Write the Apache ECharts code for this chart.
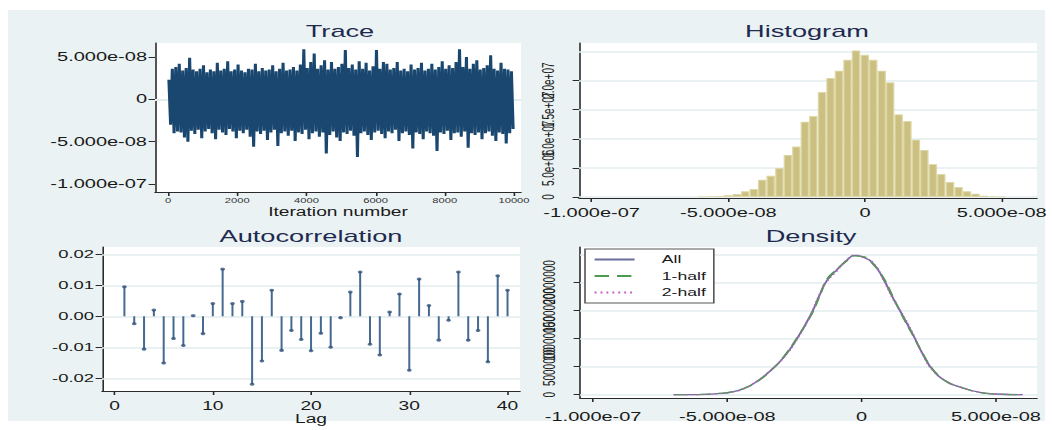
<!DOCTYPE html>
<html>
<head>
<meta charset="utf-8">
<title>MCMC diagnostics</title>
<script src="https://cdn.jsdelivr.net/npm/echarts@6/dist/echarts.min.js"></script>
<style>
  html, body { margin: 0; padding: 0; background: #fff; }
  #bg { position: absolute; left: 8px; top: 10px; width: 1037px; height: 411px; background: #eaf2f3; }
  /* the original graph is stretched sideways, so the chart is drawn narrow and scaled */
  #chart { position: absolute; left: 0; top: 0; width: 657.5px; height: 430px;
           transform: scaleX(1.6); transform-origin: 0 0; }
</style>
</head>
<body>
<div id="bg"></div>
<div id="chart"></div>
<script>
const SX = 1.6
const sx = x => x / SX // reference pixel -> chart pixel

// Trace: highest / lowest draw in each block of 100 iterations (units 1e-8)
const traceStep = 100
const traceHigh = [2.3, 3.6, 3.8, 4.2, 3.4, 3.7, 4.9, 3.5, 3.3, 3.6,
  4.0, 3.2, 3.5, 3.3, 4.3, 3.4, 3.6, 4.5, 3.3, 3.5,
  4.1, 3.4, 3.2, 3.6, 3.5, 4.2, 3.3, 3.7, 3.4, 3.5,
  4.0, 3.3, 3.6, 4.3, 3.4, 3.5, 3.8, 3.4, 4.1, 5.9,
  3.7, 4.4, 5.4, 3.6, 4.0, 4.6, 3.5, 4.4, 3.6, 3.8,
  4.2, 5.8, 3.7, 4.1, 3.5, 4.5, 3.6, 4.3, 3.4, 3.9,
  5.8, 3.6, 4.4, 4.2, 3.5, 3.7, 4.4, 3.4, 3.6, 3.3,
  4.1, 3.5, 3.7, 4.3, 3.4, 3.6, 4.2, 3.5, 3.8, 4.5,
  3.6, 4.0, 3.7, 4.4, 5.9, 3.8, 5.0, 3.6, 4.2, 4.6,
  3.5, 3.7, 4.0, 5.2, 3.6, 3.4, 4.3, 3.6, 3.5, 3.3]
const traceLow = [-3.0, -4.0, -3.8, -3.9, -4.5, -5.0, -3.7, -4.1, -3.6, -4.6,
  -3.8, -3.5, -4.0, -4.7, -3.6, -3.9, -4.2, -3.5, -3.8, -4.6,
  -3.7, -4.0, -3.6, -4.4, -5.6, -3.8, -4.1, -3.7, -4.8, -3.9,
  -3.6, -5.5, -4.0, -3.8, -4.3, -3.7, -4.9, -3.9, -4.1, -3.6,
  -4.7, -4.0, -3.8, -4.4, -3.9, -6.4, -4.2, -3.8, -4.5, -4.9,
  -3.9, -4.1, -3.7, -4.3, -6.8, -4.0, -3.8, -4.2, -4.8, -3.9,
  -3.7, -4.1, -4.6, -3.8, -4.0, -3.6, -4.9, -4.0, -3.8, -4.2,
  -5.8, -3.9, -4.1, -4.7, -3.8, -4.0, -4.3, -6.1, -3.9, -4.1,
  -3.7, -4.8, -4.0, -3.9, -4.4, -3.8, -5.7, -4.0, -4.2, -3.9,
  -4.7, -4.0, -3.8, -4.3, -4.9, -3.9, -4.1, -5.2, -4.0, -3.5]
const traceXTicks = [0, 2000, 4000, 6000, 8000, 10000]
const traceXLabels = ['0', '2000', '4000', '6000', '8000', '10000']
const traceYTicks = [-1e-7, -5e-8, 0, 5e-8]
const traceYLabels = ['-1.000e-07', '-5.000e-08', '0', '5.000e-08']

// Histogram: bin centres (units 1e-9) and density (units 1e6)
const histCenters = [-59.4, -56.3, -53.2, -50.1, -46.9, -43.8, -40.7, -37.6, -34.5, -31.3,
  -28.2, -25.1, -22.0, -18.9, -15.7, -12.6, -9.5, -6.4, -3.3, -0.1,
  3.0, 6.1, 9.2, 12.3, 15.5, 18.6, 21.7, 24.8, 27.9, 31.1,
  34.2, 37.3, 40.4, 43.5, 46.7, 49.8]
const histDensity = [0.04, 0.11, 0.17, 0.34, 0.51, 0.97, 1.37, 2.96, 3.64, 4.95,
  7.23, 8.66, 12.93, 13.9, 18.05, 20.44, 21.7, 23.58, 25.17, 24.43,
  23.58, 21.7, 19.7, 14.2, 13.04, 9.85, 8.09, 5.64, 3.93, 2.56,
  1.71, 0.97, 0.57, 0.23, 0.11, 0.05]
const histXTicks = [-1e-7, -5e-8, 0, 5e-8]
const histXLabels = ['-1.000e-07', '-5.000e-08', '0', '5.000e-08']
const histYTicks = [0, 5e6, 1e7, 1.5e7, 2e7, 2.5e7]
const histYLabels = ['0', '5.0e+06', '1.0e+07', '1.5e+07', '2.0e+07', '2.5e+07']

// Autocorrelation by lag
const acfLags = [1, 2, 3, 4, 5, 6, 7, 8, 9, 10, 11, 12, 13, 14, 15, 16, 17, 18, 19, 20,
  21, 22, 23, 24, 25, 26, 27, 28, 29, 30, 31, 32, 33, 34, 35, 36, 37, 38, 39, 40]
const acfValues = [0.0095, -0.0024, -0.0106, 0.0020, -0.0151, -0.0072, -0.0094, 0.0002, -0.0056, 0.0041,
  0.0152, 0.0041, 0.0048, -0.0219, -0.0144, 0.0084, -0.0110, -0.0046, -0.0075, -0.0111,
  -0.0055, -0.0100, -0.0005, 0.0078, 0.0143, -0.0090, -0.0125, 0.0014, 0.0072, -0.0174,
  0.0120, 0.0035, -0.0077, -0.0013, 0.0143, -0.0077, -0.0046, -0.0147, 0.0131, 0.0084]
const acfXTicks = [0, 10, 20, 30, 40]
const acfXLabels = ['0', '10', '20', '30', '40']
const acfYTicks = [-0.02, -0.01, 0, 0.01, 0.02]
const acfYLabels = ['-0.02', '-0.01', '0.00', '0.01', '0.02']

// Density: x (units 1e-8), kernel density (units 1e6)
const densX = [-7.0, -6.1, -5.4, -4.9, -4.4, -3.9, -3.4, -2.9, -2.4, -1.9,
  -1.55, -1.3, -0.93, -0.56, -0.25, 0.06, 0.43, 0.8, 1.18, 1.55,
  1.92, 2.29, 2.67, 3.16, 3.78, 4.4, 5.03, 6.0]
const densAll = [0, 0.02, 0.18, 0.41, 1.06, 2.36, 4.26, 6.68, 10.05, 14.18,
  17.9, 20.3, 22.2, 23.9, 24.8, 24.5, 23.35, 20.7, 17.1, 13.9,
  10.6, 7.1, 4.3, 2.36, 1.18, 0.41, 0.12, 0]
const densHalf1 = [0, 0.03, 0.2, 0.45, 1.1, 2.3, 4.2, 6.8, 10.2, 14.0,
  17.7, 20.5, 22.3, 23.8, 24.7, 24.6, 23.2, 20.9, 17.3, 13.7,
  10.5, 7.2, 4.4, 2.3, 1.2, 0.38, 0.1, 0]
const densHalf2 = [0, 0.01, 0.16, 0.38, 1.02, 2.42, 4.32, 6.6, 9.9, 14.3,
  18.1, 20.1, 22.0, 24.0, 24.9, 24.4, 23.5, 20.5, 16.9, 14.1,
  10.8, 7.0, 4.2, 2.42, 1.16, 0.44, 0.14, 0]
const densXTicks = [-1e-7, -5e-8, 0, 5e-8]
const densXLabels = ['-1.000e-07', '-5.000e-08', '0', '5.000e-08']
const densYTicks = [0, 5e6, 1e7, 1.5e7, 2e7, 2.5e7]
const densYLabels = ['0', '5000000', '10000000', '15000000', '20000000', '25000000']

const FONT = 'Liberation Sans'
const INK = '#1a1a1a'

// label text for a tick value
function fmt(ticks, labels) {
  return v => {
    const i = ticks.findIndex(t => Math.abs(t - v) <= Math.abs(t) * 1e-6 + 1e-20)
    return i >= 0 ? labels[i] : ''
  }
}

// stata-like value axis: plain line, outside ticks, no split lines
function axis(idx, min, max, ticks, labels, label) {
  return {
    type: 'value', gridIndex: idx, min: min, max: max,
    axisLine: {show: true, onZero: false, lineStyle: {color: '#2a2a2a', width: 1}},
    axisTick: {show: true, customValues: ticks, length: 4, lineStyle: {color: '#2a2a2a'}},
    axisLabel: Object.assign({
      customValues: ticks, color: INK, fontFamily: FONT,
      formatter: fmt(ticks, labels)
    }, label),
    splitLine: {show: false}
  }
}

// faint grid lines drawn behind the marks
function gridLines(idx, ticks) {
  return {
    type: 'line', xAxisIndex: idx, yAxisIndex: idx, data: [], z: 1, silent: true,
    markLine: {
      z: 1, silent: true, symbol: ['none', 'none'], label: {show: false},
      lineStyle: {color: '#e3ecef', width: 1.5, type: 'solid'},
      data: ticks.map(v => ({yAxis: v}))
    }
  }
}

function title(text, cx, top) {
  return {
    text: text, left: sx(cx), top: top, textAlign: 'center', padding: 0,
    textStyle: {fontFamily: FONT, fontWeight: 'normal', fontSize: 17, color: '#1e2a4f'}
  }
}

const traceData = []
traceHigh.forEach((h, i) => {
  traceData.push([i * traceStep + 25, h * 1e-8])
  traceData.push([i * traceStep + 75, traceLow[i] * 1e-8])
})

const densColors = ['#6b6e9c', '#4e9a50', '#c65bc6']

const chart = echarts.init(document.getElementById('chart'), null, {renderer: 'svg'})

chart.setOption({
  animation: false,
  title: [
    title('Trace', 340, 23),
    title('Histogram', 807, 23),
    title('Autocorrelation', 311, 228),
    title('Density', 811, 228)
  ],
  grid: [
    {left: sx(155), top: 43, width: sx(366), height: 149},
    {left: sx(579), top: 43, width: sx(458), height: 155},
    {left: sx(102), top: 247, width: sx(418), height: 144},
    {left: sx(580), top: 247, width: sx(457), height: 151}
  ].map(g => Object.assign(g, {show: true, backgroundColor: '#fff', borderWidth: 0, containLabel: false})),
  legend: {
    data: ['All', '1-half', '2-half'],
    orient: 'vertical', left: sx(585), top: 249,
    itemWidth: sx(40), itemHeight: 12, itemGap: 5.5,
    padding: [5, 5, 5, 5],
    itemStyle: {opacity: 0},
    backgroundColor: '#fff', borderColor: '#555', borderWidth: 1, borderRadius: 0,
    textStyle: {fontFamily: FONT, fontSize: 11, color: INK, padding: [0, 0, 0, 12]}
  },
  xAxis: [
    Object.assign(axis(0, -376, 10202, traceXTicks, traceXLabels, {fontSize: 7, margin: 5, color: '#333'}),
      {name: 'Iteration number', nameLocation: 'middle', nameGap: 14,
       nameTextStyle: {fontFamily: FONT, fontSize: 12, color: INK, verticalAlign: 'top'}}),
    axis(1, -1.046e-7, 6.29e-8, histXTicks, histXLabels, {fontSize: 12.5, margin: 8}),
    Object.assign(axis(2, -1.28, 41.27, acfXTicks, acfXLabels, {fontSize: 12, margin: 9}),
      {name: 'Lag', nameLocation: 'middle', nameGap: 17,
       nameTextStyle: {fontFamily: FONT, fontSize: 12, color: INK, verticalAlign: 'top'}}),
    axis(3, -1.049e-7, 6.53e-8, densXTicks, densXLabels, {fontSize: 12.5, margin: 12})
  ],
  yAxis: [
    axis(0, -1.093e-7, 6.64e-8, traceYTicks, traceYLabels, {fontSize: 12.5, margin: 5}),
    axis(1, -0.17e6, 26.47e6, histYTicks, histYLabels, {fontSize: 10, rotate: 90, margin: 14}),
    axis(2, -0.0241, 0.02235, acfYTicks, acfYLabels, {fontSize: 11.5, margin: 5}),
    axis(3, -0.59e6, 26.3e6, densYTicks, densYLabels, {fontSize: 10, rotate: 90, margin: 14})
  ],
  series: [
    gridLines(0, traceYTicks),
    gridLines(1, histYTicks),
    gridLines(2, acfYTicks),
    gridLines(3, densYTicks),
    {
      type: 'line', xAxisIndex: 0, yAxisIndex: 0, symbol: 'none', z: 3,
      lineStyle: {color: '#1a476f', width: 1.9},
      data: traceData
    },
    {
      type: 'bar', xAxisIndex: 1, yAxisIndex: 1, barWidth: sx(8.5), z: 3,
      itemStyle: {color: '#cbc081', borderColor: '#ddd7a6', borderWidth: 0.8},
      data: histCenters.map((c, i) => [c * 1e-9, histDensity[i] * 1e6])
    },
    {
      type: 'bar', xAxisIndex: 2, yAxisIndex: 2, barWidth: sx(2), z: 3,
      itemStyle: {color: '#46698f'},
      data: acfLags.map((l, i) => [l, acfValues[i]])
    },
    {
      type: 'scatter', xAxisIndex: 2, yAxisIndex: 2, symbolSize: 3, z: 4,
      itemStyle: {color: '#2e5079'},
      data: acfLags.map((l, i) => [l, acfValues[i]])
    },
    {
      name: 'All', type: 'line', xAxisIndex: 3, yAxisIndex: 3, symbol: 'none', smooth: true, z: 3,
      itemStyle: {color: densColors[0]},
      lineStyle: {color: densColors[0], width: 1.3},
      data: densX.map((x, i) => [x * 1e-8, densAll[i] * 1e6])
    },
    {
      name: '1-half', type: 'line', xAxisIndex: 3, yAxisIndex: 3, symbol: 'none', smooth: true, z: 3,
      itemStyle: {color: densColors[1]},
      lineStyle: {color: densColors[1], width: 1.2, type: [9, 5]},
      data: densX.map((x, i) => [x * 1e-8, densHalf1[i] * 1e6])
    },
    {
      name: '2-half', type: 'line', xAxisIndex: 3, yAxisIndex: 3, symbol: 'none', smooth: true, z: 3,
      itemStyle: {color: densColors[2]},
      lineStyle: {color: densColors[2], width: 1.2, type: [1.2, 2.5]},
      data: densX.map((x, i) => [x * 1e-8, densHalf2[i] * 1e6])
    }
  ]
})
</script>
</body>
</html>
